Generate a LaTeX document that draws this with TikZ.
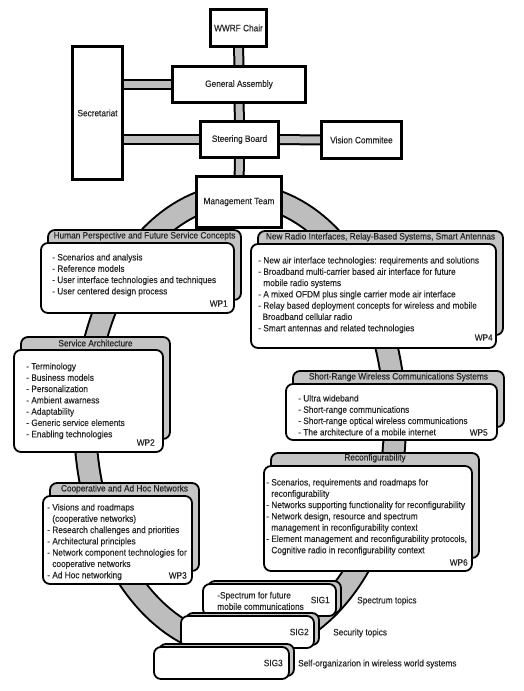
\documentclass[tikz,border=0pt]{standalone}
\usepackage{fontspec}
\setmainfont{Liberation Sans}[FakeStretch=0.9, FakeBold=0.35]
\usetikzlibrary{positioning,backgrounds}

\definecolor{band}{HTML}{BDBDBD}
\definecolor{tab}{HTML}{C4C4C4}

\tikzset{
	every node/.style={font=\fontsize{9.2}{11.3}\selectfont, text=black!85},
	org/.style={draw, line width=2.6pt, fill=white, align=center},
	link/.style={draw, line width=2pt, double=band, double distance=7pt},
	ring/.style={draw, line width=2pt, double=band, double distance=20pt},
	front/.style={draw, line width=1.8pt, fill=white, rounded corners=7pt},
	back/.style={draw, line width=1.8pt, fill=tab, rounded corners=7pt},
	items/.style={align=left, inner sep=0pt},
	wp/.style={inner sep=0pt},
	topic/.style={anchor=west, inner sep=0pt}
}

\begin{document}
\begin{tikzpicture}[x=1pt, y=-1pt]
	\useasboundingbox (0,0) rectangle (523,691);

	% loop of the work packages
	\draw[ring] (240,421) ellipse [x radius=155pt, y radius=226pt];

	% organisation
	\node[org, minimum width=56pt, minimum height=37pt] (chair) at (238.5,28) {WWRF Chair};
	\node[org, minimum width=133pt, minimum height=36pt] (assembly) at (239,84.5) {General Assembly};
	\node[org, minimum width=50pt, minimum height=133pt] (secretariat) at (97.5,113) {Secretariat};
	\node[org, minimum width=78pt, minimum height=36pt] (steering) at (239.5,139.5) {Steering Board};
	\node[org, minimum width=80pt, minimum height=37pt] (vision) at (361.5,140) {Vision Commitee};
	\node[org, minimum width=85pt, minimum height=51pt] (mgmt) at (239,202) {Management Team};

	\begin{scope}[on background layer]
	\draw[link] (chair) -- (assembly);
	\draw[link] (assembly) -- (steering);
	\draw[link] (steering) -- (mgmt);
	\draw[link] (steering) -- (vision);
	\draw[link] (secretariat.east |- assembly.west) -- (assembly.west);
	\draw[link] (secretariat.east |- steering.west) -- (steering.west);
	\end{scope}

	% WP1
	\node[back, minimum width=193pt, minimum height=70pt] (wp1b) at (144.5,265) {};
	\node[front, minimum width=193pt, minimum height=70pt] (wp1) at (137.5,278) {};
	\node (wp1t) at ([yshift=-7pt]wp1b.north) {Human Perspective and Future Service Concepts};
	\node[items, below right=11.5pt and 12pt of wp1.north west] (wp1l) {- Scenarios and analysis\\- Reference models\\- User interface technologies and techniques\\- User centered design process};
	\node[wp, above left=7pt and 7pt of wp1.south east] (wp1n) {WP1};

	% WP2
	\node[back, minimum width=149pt, minimum height=102pt] (wp2b) at (95.5,388) {};
	\node[front, minimum width=149pt, minimum height=102pt] (wp2) at (88.5,401) {};
	\node (wp2t) at ([yshift=-7pt]wp2b.north) {Service Architecture};
	\node[items, below right=13.5pt and 13pt of wp2.north west] (wp2l) {- Terminology\\- Business models\\- Personalization\\- Ambient awarness\\- Adaptability\\- Generic service elements\\- Enabling technologies};
	\node[wp, above left=7pt and 9pt of wp2.south east] (wp2n) {WP2};

	% WP3
	\node[back, minimum width=149pt, minimum height=88pt] (wp3b) at (124.5,527) {};
	\node[front, minimum width=149pt, minimum height=88pt] (wp3) at (117.5,540) {};
	\node (wp3t) at ([yshift=-7pt]wp3b.north) {Cooperative and Ad Hoc Networks};
	\node[items, below right=8.5pt and 5pt of wp3.north west] (wp3l) {- Visions and roadmaps\\\phantom{- }(cooperative networks)\\- Research challenges and priorities\\- Architectural principles\\- Network component technologies for\\\phantom{- }cooperative networks\\- Ad Hoc networking};
	\node[wp, above left=6pt and 6pt of wp3.south east] (wp3n) {WP3};

	% WP4
	\node[back, minimum width=245pt, minimum height=104pt] (wp4b) at (380.5,283) {};
	\node[front, minimum width=245pt, minimum height=104pt] (wp4) at (373.5,296) {};
	\node (wp4t) at ([yshift=-7pt]wp4b.north) {New Radio Interfaces, Relay-Based Systems, Smart Antennas};
	\node[items, below right=13.5pt and 8pt of wp4.north west] (wp4l) {- New air interface technologies: requirements and solutions\\- Broadband multi-carrier based air interface for future\\\phantom{- }mobile radio systems\\- A mixed OFDM plus single carrier mode air interface\\- Relay based deployment concepts for wireless and mobile\\\phantom{-\,}Broadband cellular radio\\- Smart antennas and related technologies};
	\node[wp, above left=8pt and 4pt of wp4.south east] (wp4n) {WP4};

	% WP5
	\node[back, minimum width=211pt, minimum height=56pt] (wp5b) at (398.5,399) {};
	\node[front, minimum width=211pt, minimum height=56pt] (wp5) at (391.5,412) {};
	\node (wp5t) at ([yshift=-7pt]wp5b.north) {Short-Range Wireless Communications Systems};
	\node[items, below right=11.5pt and 13pt of wp5.north west] (wp5l) {- Ultra wideband\\- Short-range communications\\- Short-range optical wireless communications\\- The architecture of a mobile internet};
	\node[wp, above left=5pt and 10pt of wp5.south east] (wp5n) {WP5};

	% WP6
	\node[back, minimum width=208pt, minimum height=105pt] (wp6b) at (375,505.5) {};
	\node[front, minimum width=208pt, minimum height=105pt] (wp6) at (368,518.5) {};
	\node (wp6t) at ([yshift=-6pt]wp6b.north) {Reconfigurability};
	\node[items, below right=13.5pt and 3pt of wp6.north west] (wp6l) {- Scenarios, requirements and roadmaps for\\\phantom{- }reconfigurability\\- Networks supporting functionality for reconfigurability\\- Network design, resource and spectrum\\\phantom{- }management in reconfigurability context\\- Element management and reconfigurability protocols,\\\phantom{- }Cognitive radio in reconfigurability context};
	\node[wp, above left=6pt and 5pt of wp6.south east] (wp6n) {WP6};

	% special interest groups
	\node[back, minimum width=133pt, minimum height=32pt] (sig1b) at (274.5,597) {};
	\node[front, minimum width=133pt, minimum height=32pt] (sig1) at (269.5,600) {};
	\node[items, below right=8.5pt and 15pt of sig1.north west] (sig1l) {-Spectrum for future\\mobile communications};
	\node[wp, left=7pt of sig1.east] (sig1n) {SIG1};
	\node[topic] (sig1x) at (357,601) {Spectrum topics};

	\node[back, minimum width=133pt, minimum height=32pt] (sig2b) at (252.5,629) {};
	\node[front, minimum width=133pt, minimum height=32pt] (sig2) at (247.5,632) {};
	\node[wp, left=6pt of sig2.east] (sig2n) {SIG2};
	\node[topic] (sig2x) at (333,633) {Security topics};

	\node[back, minimum width=135pt, minimum height=32pt] (sig3b) at (226.5,660) {};
	\node[front, minimum width=135pt, minimum height=32pt] (sig3) at (221.5,663) {};
	\node[wp, left=7pt of sig3.east] (sig3n) {SIG3};
	\node[topic] (sig3x) at (298,664) {Self-organizarion in wireless world systems};
\end{tikzpicture}
\end{document}
